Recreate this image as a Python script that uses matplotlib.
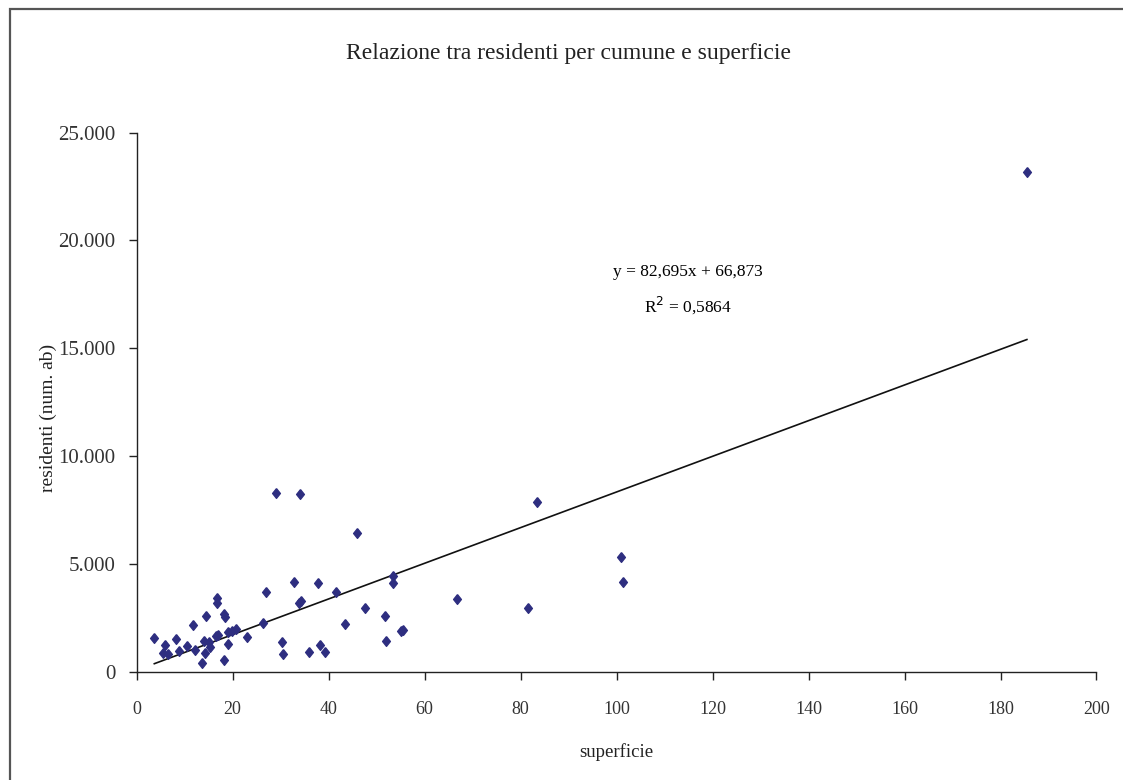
import matplotlib
matplotlib.use("Agg")
import matplotlib.pyplot as plt
import matplotlib.patches as mpatches
from matplotlib.ticker import FuncFormatter

# superficie (km2) and residenti per comune
superficie = [3.7, 5.9, 5.5, 6.6, 8.2, 8.9, 10.5, 11.7, 12.2, 13.7,
              14.1, 14.3, 14.5, 15.1, 15.3, 16.7, 16.7, 16.5, 17.0, 18.2,
              18.4, 18.2, 19.0, 19.1, 19.8, 20.7, 23.0, 26.3, 27.0, 29.1,
              34.0, 32.7, 33.9, 34.3, 30.2, 30.5, 36.0, 37.8, 38.3, 39.3,
              41.5, 43.5, 46.0, 47.5, 51.8, 52.0, 53.5, 53.5, 55.0, 55.5,
              66.8, 81.6, 83.4, 100.9, 101.4, 185.5]
residenti = [1580, 1240, 880, 820, 1500, 960, 1190, 2180, 990, 420,
             1440, 880, 2580, 1360, 1160, 3430, 3170, 1670, 1720, 2680,
             2540, 560, 1280, 1830, 1870, 1980, 1600, 2240, 3680, 8300,
             8260, 4170, 3200, 3280, 1380, 820, 900, 4100, 1220, 900,
             3680, 2200, 6420, 2940, 2600, 1420, 4440, 4100, 1870, 1950,
             3360, 2950, 7890, 5310, 4160, 23160]

# linear trend shown on the chart
slope = 82.695
intercept = 66.873
r2 = 0.5864

title = "Relazione tra residenti per cumune e superficie"
xlabel = "superficie"
ylabel = "residenti (num. ab)"
xticks = list(range(0, 201, 20))
yticks = list(range(0, 25001, 5000))

plt.rcParams['font.family'] = ['Liberation Serif', 'DejaVu Serif']

fig = plt.figure(figsize=(11.23, 7.8), dpi=100)
ax = fig.add_axes([0.1216, 0.1388, 0.8548, 0.6911])

# outer frame (runs off the right and bottom edges)
frame = mpatches.Rectangle((10 / 1123, -0.1), 1.2, (780 - 9) / 780 + 0.1,
                           transform=fig.transFigure, fill=False,
                           edgecolor='#555555', linewidth=1.6, clip_on=False)
fig.patches.append(frame)

diamond = [(0, 1), (0.8, 0), (0, -1), (-0.8, 0), (0, 1)]
ax.plot(superficie, residenti, linestyle='none', marker=diamond,
        markersize=7, color='#2E2E80', clip_on=False, zorder=3)

x0, x1 = min(superficie), max(superficie)
ax.plot([x0, x1], [slope * x0 + intercept, slope * x1 + intercept],
        color='#111111', linewidth=1.2, zorder=2)

eq = f"y = {slope:.3f}x + {intercept:.3f}".replace('.', ',')
ax.text(114.9, 18540, eq, ha='center', va='center', fontsize=12.5)
ax.text(114.9, 17000, f"R$^2$ = {r2:.4f}".replace('.', ','),
        ha='center', va='center', fontsize=12.5)

ax.set_xlim(0, 200)
ax.set_ylim(0, 25000)
ax.set_xticks(xticks)
ax.set_yticks(yticks)
ax.yaxis.set_major_formatter(FuncFormatter(lambda v, p: f"{int(v):,}".replace(',', '.')))

for s in ['top', 'right']:
    ax.spines[s].set_visible(False)
for s in ['left', 'bottom']:
    ax.spines[s].set_linewidth(1.0)
    ax.spines[s].set_color('#222222')

ax.tick_params(axis='x', direction='out', length=6, width=1, pad=15,
               labelsize=13, colors='#222222', labelcolor='#333333')
ax.tick_params(axis='y', direction='out', length=6, width=1, pad=9,
               labelsize=15, colors='#222222', labelcolor='#333333')

ax.set_xlabel(xlabel, fontsize=13.5, color='#222222', labelpad=18)
ax.set_ylabel(ylabel, fontsize=14, color='#222222')
ax.yaxis.set_label_coords(-0.083, 0.47)

fig.text(568 / 1123, 1 - 53 / 780, title, ha='center', va='center',
         fontsize=17, color='#222222')

fig.savefig('out.png', dpi=100)
